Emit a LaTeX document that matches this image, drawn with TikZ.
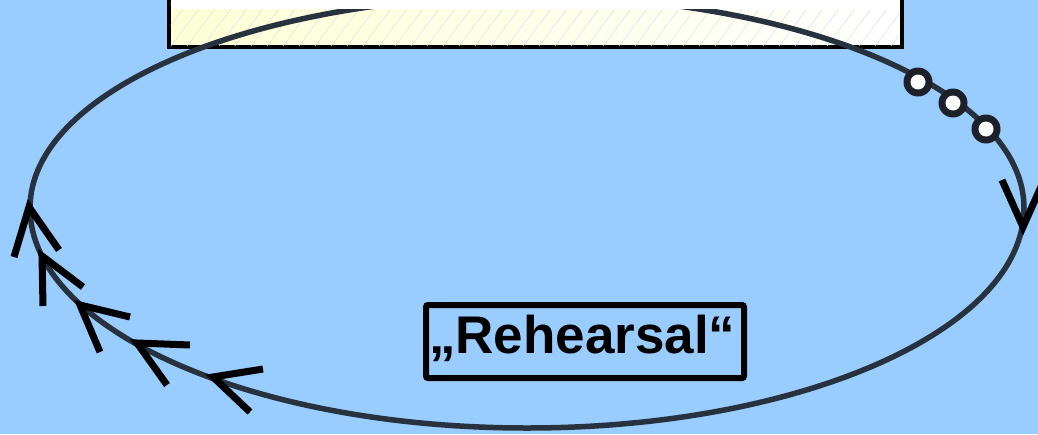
\documentclass[tikz,border=0pt]{standalone}
\usepackage{fontspec}
\setmainfont{Liberation Sans}
\definecolor{bg}{RGB}{153,204,255}
\definecolor{ring}{RGB}{40,50,62}
\definecolor{dotring}{RGB}{28,32,40}
\definecolor{paleyellow}{RGB}{255,255,212}
\definecolor{hatchc}{RGB}{208,224,238}
\begin{document}
\begin{tikzpicture}[x=1pt,y=-1pt,
  ringline/.style={draw=ring, line width=5.5pt},
  arrowhead/.style={draw=black, line width=7pt, line join=miter, miter limit=10},
  dotmark/.style={circle, fill=dotring, minimum size=29pt, inner sep=0pt},
  dotcore/.style={circle, fill=white, minimum size=15pt, inner sep=0pt},
  framebox/.style={draw=black, line width=6pt, rounded corners=2pt},
]
\fill[bg] (0,0) rectangle (1038,434);
\useasboundingbox (0,0) rectangle (1038,434);

% top box (cut by the upper edge)
\node (topbox) [draw=black, line width=4pt, minimum width=732.8pt, minimum height=70pt,
  inner sep=0pt, left color=paleyellow, right color=white] at (535.1,12) {};
\begin{scope}
  \clip (170.7,-20) rectangle (899.5,45);
  \foreach \i in {120,136,...,920} \draw[hatchc, line width=0.5pt] (\i,50) -- ++(45,-60);
\end{scope}

% the loop
\draw[ringline] (30,208) arc[start angle=180,end angle=360,x radius=497,y radius=212]
  arc[start angle=0,end angle=180,x radius=497,y radius=220] -- cycle;

% white strip at the top of the box
\fill[white] (170.7,-20) rectangle (899.5,9);

% dots
\node[dotmark] (d1) at (918,82) {};
\node[dotmark] (d2) at (953,103) {};
\node[dotmark] (d3) at (986,129) {};
\node[dotcore] at (d1) {};
\node[dotcore] at (d2) {};
\node[dotcore] at (d3) {};

% arrowheads
\draw[arrowhead] (1002,180) -- (1023,227) -- (1044,180);
\draw[arrowhead] (14,257) -- (29,207) -- (59,250);
\draw[arrowhead] (43,306) -- (42,256) -- (83,287);
\draw[arrowhead] (100,352) -- (80,305) -- (130,317);
\draw[arrowhead] (167,385) -- (137,343) -- (190,345);
\draw[arrowhead] (250,412) -- (213,377) -- (263,369);

% label
\node (reh) [framebox, minimum width=318pt, minimum height=73pt, inner xsep=3pt, inner ysep=0pt,
  text width=312pt, align=left, text height=37pt, text depth=14pt,
  font=\bfseries\fontsize{53}{53}\selectfont] at (585,341.5) {„Rehearsal“};
\end{tikzpicture}
\end{document}
